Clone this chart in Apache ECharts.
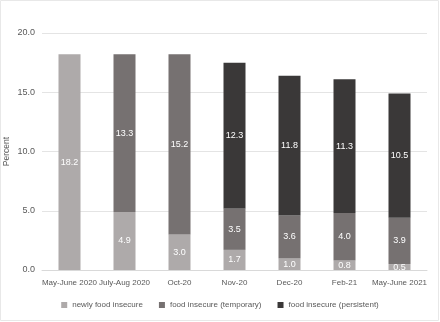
<!DOCTYPE html>
<html>
<head>
<meta charset="utf-8">
<script src="https://cdn.jsdelivr.net/npm/echarts@6/dist/echarts.min.js"></script>
<style>
  html, body { margin: 0; padding: 0; background: #fff; }
  #main { width: 440px; height: 322px; }
</style>
</head>
<body>
<div id="main"></div>
<script>
// survey waves
var categories = ['May-June 2020', 'July-Aug 2020', 'Oct-20', 'Nov-20', 'Dec-20', 'Feb-21', 'May-June 2021'];
// percent of households, per group
var newlyInsecure = [18.2, 4.9, 3.0, 1.7, 1.0, 0.8, 0.5];
var temporaryInsecure = [null, 13.3, 15.2, 3.5, 3.6, 4.0, 3.9];
var persistentInsecure = [null, null, null, 12.3, 11.8, 11.3, 10.5];
var seriesNames = ['newly food insecure', 'food insecure (temporary)', 'food insecure (persistent)'];

var fontFam = '"Liberation Sans", Arial, sans-serif';

function barSeries(name, data, color) {
    return {
        name: name,
        type: 'bar',
        stack: 'total',
        barWidth: '40%',
        data: data,
        itemStyle: { color: color },
        label: {
            show: true,
            position: 'inside',
            color: '#fff',
            fontSize: 9,
            fontFamily: fontFam,
            formatter: function (p) { return p.value == null ? '' : p.value.toFixed(1); }
        }
    };
}

var myChart = echarts.init(document.getElementById('main'));
var option = {
    animation: false,
    textStyle: { fontFamily: fontFam },
    grid: { left: 42, right: 13, top: 33, bottom: 52, containLabel: false, outerBoundsMode: 'none' },
    legend: {
        bottom: 8,
        itemWidth: 6,
        itemHeight: 6,
        itemGap: 16,
        icon: 'rect',
        textStyle: { color: '#595959', fontSize: 8, fontFamily: fontFam },
        data: seriesNames
    },
    xAxis: {
        type: 'category',
        data: categories,
        axisLine: { lineStyle: { color: '#d9d9d9' } },
        axisTick: { show: false },
        axisLabel: { color: '#595959', fontSize: 8, interval: 0, margin: 9 }
    },
    yAxis: {
        type: 'value',
        min: 0,
        max: 20,
        interval: 5,
        name: 'Percent',
        nameLocation: 'middle',
        nameGap: 31,
        nameMoveOverlap: false,
        nameRotate: 90,
        nameTextStyle: { color: '#595959', fontSize: 8.5 },
        axisLabel: { color: '#595959', fontSize: 9, margin: 7, formatter: function (v) { return v.toFixed(1); } },
        axisLine: { show: false },
        splitLine: { lineStyle: { color: '#e4e4e4' } }
    },
    series: [
        barSeries(seriesNames[0], newlyInsecure, '#aeaaaa'),
        barSeries(seriesNames[1], temporaryInsecure, '#767171'),
        barSeries(seriesNames[2], persistentInsecure, '#3a3838')
    ],
    graphic: [{
        type: 'rect',
        shape: { x: 0.5, y: 0.5, width: 438, height: 320 },
        style: { fill: 'none', stroke: '#e8e8e8', lineWidth: 1 },
        silent: true
    }]
};
myChart.setOption(option);
</script>
</body>
</html>
